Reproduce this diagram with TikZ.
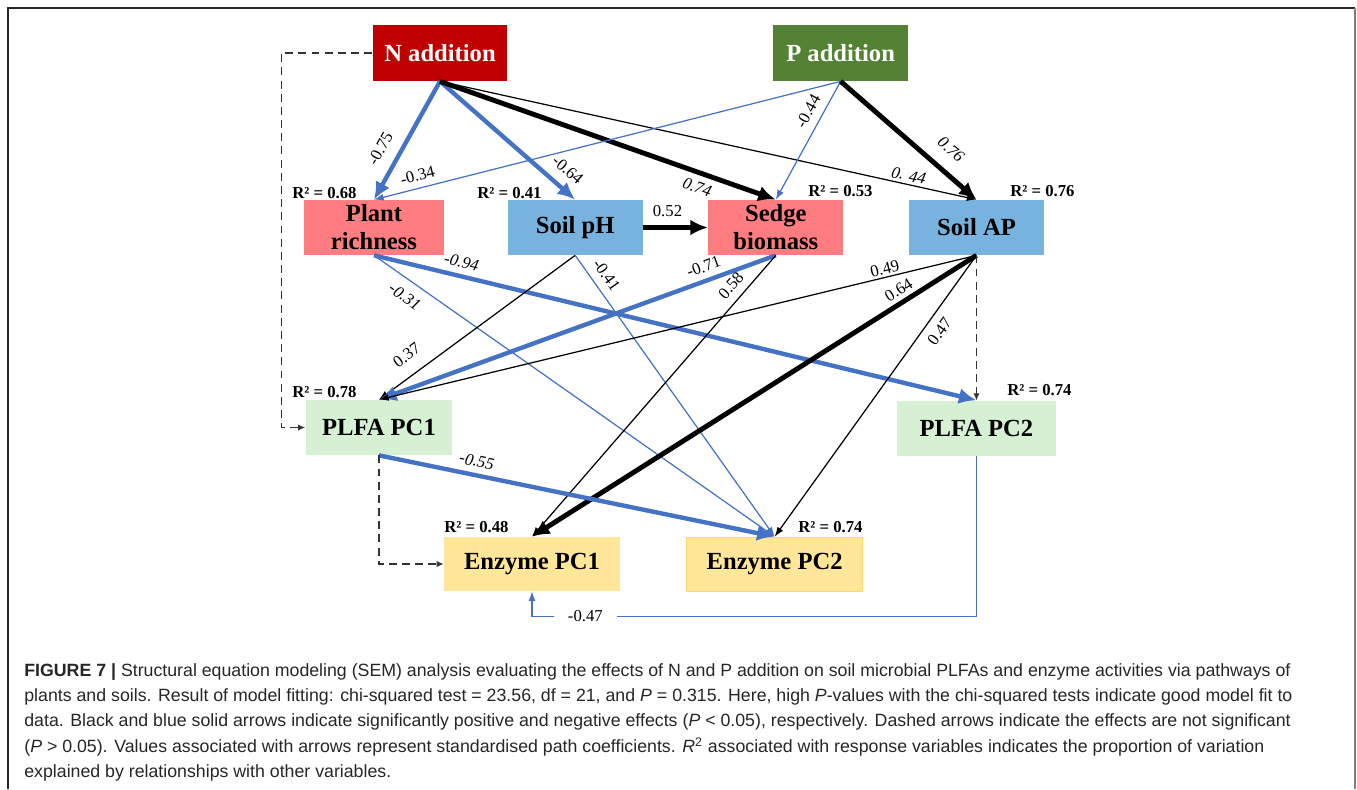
\documentclass[tikz,border=0pt]{standalone}
\usepackage{fontspec}
\setmainfont{Liberation Serif}
\newfontfamily\capfont{Liberation Sans}
\usepackage{xcolor}
\usetikzlibrary{arrows.meta,positioning}

\definecolor{naddred}{HTML}{C00000}
\definecolor{paddgreen}{HTML}{548235}
\definecolor{plantred}{HTML}{FF7C80}
\definecolor{soilblue}{HTML}{77B3DE}
\definecolor{plfagreen}{HTML}{D6F0D4}
\definecolor{enzyellow}{HTML}{FFE699}
\definecolor{enzedge}{HTML}{FFD966}
\definecolor{semblue}{HTML}{4472C4}

\begin{document}
\begin{tikzpicture}[
  x=0.02cm, y=-0.02cm,
  node distance=1.3cm and 1.3cm,
  box/.style={align=center, minimum height=1.1cm, inner sep=0.5pt,
              font=\fontsize{14}{16}\selectfont\bfseries},
  treat/.style={box, minimum width=2.7cm, minimum height=1.12cm, text=white},
  resp/.style={box, minimum width=2.7cm},
  rsq/.style={anchor=west, inner sep=0pt, font=\fontsize{9.5}{11}\selectfont\bfseries},
  coef/.style={font=\fontsize{9.5}{11}\selectfont, inner sep=1.5pt},
  poseff/.style={draw=black, line width=0.7pt, -{Latex[length=5.5pt,width=4pt]}},
  poseffbig/.style={draw=black, line width=2.8pt, -{Latex[length=10pt,width=9pt]}},
  negeff/.style={draw=semblue, line width=0.7pt, -{Latex[length=5.5pt,width=4pt]}},
  negeffbig/.style={draw=semblue, line width=2.5pt, -{Latex[length=10pt,width=9pt]}},
  nseff/.style={draw=black!80, line width=0.6pt, dash pattern=on 4.5pt off 3pt,
                -{Latex[length=4pt,width=3.5pt]}}
]
\useasboundingbox (0,0) rectangle (1357,789);

% frame
\draw[black!85, line width=0.9pt] (8,789) -- (8,8) -- (1355,8);
\draw[gray, line width=1.4pt] (1355,8) -- (1355,789);

% treatments
\node[treat, fill=naddred] (nadd) at (440,53) {N addition};
\node[treat, fill=paddgreen, right=5.3cm of nadd] (padd) {P addition};

% plants and soils
\node[resp, fill=plantred, minimum width=2.8cm] (pr) at (374,227.5) {Plant\\richness};
\node[resp, fill=soilblue, right=1.26cm of pr] (ph) {Soil pH};
\node[resp, fill=plantred, right=of ph] (sedge) {Sedge\\biomass};
\node[resp, fill=soilblue, right=of sedge] (ap) {Soil AP};

% microbes
\node[resp, fill=plfagreen, minimum width=2.94cm] (pc1) at (379,427.5) {PLFA PC1};
\node[resp, fill=plfagreen, minimum width=3.2cm, below=2.9cm of ap] (pc2) {PLFA PC2};
\node[resp, fill=enzyellow, minimum width=3.52cm, minimum height=1.08cm] (enz1) at (532,564) {Enzyme PC1};
\node[resp, fill=enzyellow, draw=enzedge, minimum width=3.52cm, minimum height=1.08cm,
      right=1.32cm of enz1] (enz2) {Enzyme PC2};

% R squared
\node[rsq] (r2pr) at (292,193) {R² = 0.68};
\node[rsq] (r2ph) at (477,193) {R² = 0.41};
\node[rsq] (r2sedge) at (808,191) {R² = 0.53};
\node[rsq] (r2ap) at (1010,191) {R² = 0.76};
\node[rsq] (r2pc1) at (292,392) {R² = 0.78};
\node[rsq] (r2pc2) at (1007,390) {R² = 0.74};
\node[rsq] (r2enz1) at (444,527) {R² = 0.48};
\node[rsq] (r2enz2) at (798,527) {R² = 0.74};

% paths
\draw[negeffbig] (nadd.south) -- node[coef, sloped, above=5pt, pos=0.65] {-0.75} (pr.north);
\draw[negeffbig] (nadd.south) -- node[coef, sloped, above=4pt, pos=0.86] {-0.64} (ph.north);
\draw[poseffbig] (nadd.south) -- node[coef, sloped, below=2pt, pos=0.78] {\itshape 0.74} (sedge.north);
\draw[poseff] (nadd.south) -- node[coef, sloped, above, pos=0.87] {\itshape 0. 44} (ap.north);
\draw[negeff] (padd.south) -- node[coef, sloped, above=2pt, pos=0.9] {-0.34} (pr.north);
\draw[negeff] (padd.south) -- node[coef, sloped, above=3pt, pos=0.31] {-0.44} (sedge.north);
\draw[poseffbig] (padd.south) -- node[coef, sloped, above=6pt, pos=0.71] {\itshape 0.76} (ap.north);
\draw[poseffbig] (ph) -- node[coef, above=3pt, xshift=-0.16cm] {0.52} (sedge);
\draw[negeffbig] (pr.south) -- node[coef, sloped, above=2pt, pos=0.14] {\itshape -0.94} (pc2.north);
\draw[negeff] (pr.south) -- node[coef, sloped, below=4pt, pos=0.1] {\itshape -0.31} (enz2.north);
\draw[poseff] (ph.south) -- node[coef, sloped, above=6pt, pos=0.8] {0.37} (pc1.north);
\draw[negeff] (ph.south) -- node[coef, sloped, above=3pt, pos=0.1] {-0.41} (enz2.north);
\draw[negeffbig] (sedge.south) -- node[coef, sloped, above=2pt, pos=0.17] {-0.71} (pc1.north);
\draw[poseff] (sedge.south) -- node[coef, sloped, above=3pt, pos=0.14] {0.58} (enz1.north);
\draw[poseff] (ap.south) -- node[coef, sloped, above, pos=0.15] {0.49} (pc1.north);
\draw[poseffbig] (ap.south) -- node[coef, sloped, above=1pt, pos=0.16] {0.64} (enz1.north);
\draw[poseff] (ap.south) -- node[coef, sloped, below=3pt, pos=0.24] {0.47} (enz2.north);
\draw[nseff] (ap.south) -- (pc2.north);
\draw[negeffbig] (pc1.south) -- node[coef, sloped, above=2pt, pos=0.24] {\itshape -0.55} (enz2.north);
\draw[nseff] (pc1.south) |- (enz1.west);
\draw[nseff] (nadd.west) -| ([xshift=-0.48cm]pc1.west) -- (pc1.west);
\draw[negeff] (pc2.south) |- node[coef, pos=0.94, fill=white, inner xsep=8pt] {-0.47}
  ([yshift=-0.5cm]enz1.south) -- (enz1.south);

% caption
\node[anchor=north west, align=left, inner sep=0pt, text=black!85,
      font=\capfont\fontsize{10.1}{14.45}\selectfont] (caption) at (24,663) {%
\textbf{FIGURE 7 \textbar}\ Structural equation modeling (SEM) analysis evaluating the effects of N and P addition on soil microbial PLFAs and enzyme activities via pathways of\\
plants and soils. Result of model fitting: chi-squared test = 23.56, df = 21, and \textit{P} = 0.315. Here, high \textit{P}-values with the chi-squared tests indicate good model fit to\\
data. Black and blue solid arrows indicate significantly positive and negative effects (\textit{P} < 0.05), respectively. Dashed arrows indicate the effects are not significant\\
(\textit{P} > 0.05). Values associated with arrows represent standardised path coefficients. \textit{R}\textsuperscript{2} associated with response variables indicates the proportion of variation\\
explained by relationships with other variables.};
\end{tikzpicture}
\end{document}
